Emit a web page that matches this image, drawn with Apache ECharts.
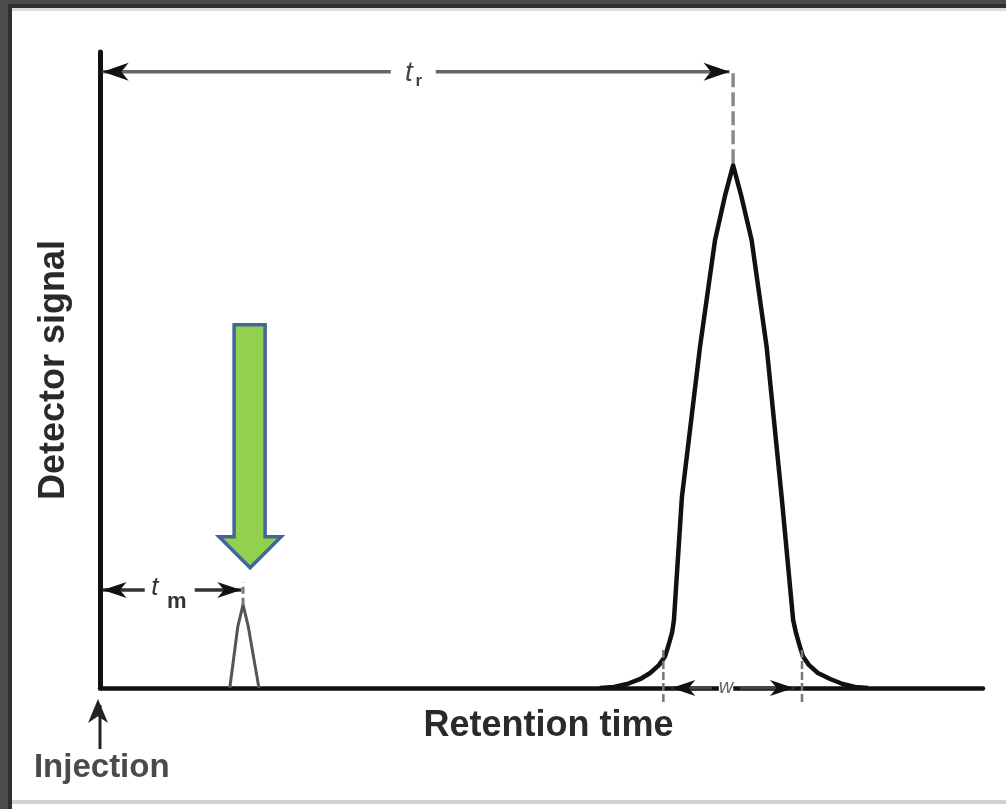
<!DOCTYPE html>
<html><head><meta charset="utf-8">
<script src="https://cdn.jsdelivr.net/npm/echarts@6/dist/echarts.min.js"></script>
<style>html,body{margin:0;padding:0;background:#4b4b4b}#c{width:1006px;height:809px}</style>
</head><body><div id="c"></div>
<script>
// ---- data (retention time 0-100, detector signal 0-100) ----
const mainPeakX = [56.6, 58.2, 59.7, 61.2, 62.3, 63.3, 64.0, 64.4, 64.8, 65.0, 65.9, 67.95, 69.65, 70.8, 71.7, 72.6, 73.8, 75.5, 77.2, 78.5, 78.8, 79.2, 79.6, 80.3, 81.3, 82.7, 84.1, 85.5, 87.0];
const mainPeakY = [0, 0.16, 0.63, 1.42, 2.36, 3.6, 5.0, 6.8, 8.8, 10.7, 30.0, 53.6, 70.4, 77.5, 82.2, 77.5, 70.4, 53.6, 30.0, 10.7, 8.8, 6.8, 5.0, 3.6, 2.36, 1.42, 0.63, 0.16, 0];
const smallPeakX = [14.7, 15.6, 16.2, 16.8, 18.0];
const smallPeakY = [0, 9.6, 13.1, 9.6, 0];

// annotation anchors (data units)
const trSpan = [0.3, 71.3], trLevel = 96.9, trLabelX = 35.2;
const tmSpan = [0.3, 16.0], tmLevel = 15.4, tmLabelX = 6.2;
const wSpan = [63.8, 79.5], wLevel = 0, wLabelX = 70.9;
const mainApex = [71.7, 82.2], mainMarkTop = 97.4;
const smallApex = [16.2, 13.1], smallMarkTop = 16.6;
const injectionArrow = [0, -9.6, -1.1];
const injectionLabel = [0.2, -12.6];
const pointerTip = [17.0, 18.9];

const chart = echarts.init(document.getElementById('c'));

function annotations(params, api) {
  const P = (x, y) => api.coord([x, y]);
  const kids = [];
  const seg = (a, b, st) => kids.push({type: 'line', shape: {x1: a[0], y1: a[1], x2: b[0], y2: b[1]},
    style: Object.assign({stroke: '#666', lineWidth: 3.5}, st)});
  const head = (tip, dx, dy, len, half, color) => {
    const bx = tip[0] - dx * len, by = tip[1] - dy * len;
    const nx = -dy, ny = dx;
    kids.push({type: 'polygon', shape: {points: [[tip[0], tip[1]], [bx + nx * half, by + ny * half],
      [tip[0] - dx * len * 0.72, tip[1] - dy * len * 0.72], [bx - nx * half, by - ny * half]]},
      style: {fill: color || '#111'}});
  };
  const txt = (x, y, s, font, fill, extra) => kids.push({type: 'text', style: Object.assign({x: x, y: y, text: s,
    font: font, fill: fill, align: 'center', verticalAlign: 'middle'}, extra || {})});

  // apex marker lines (dashed gray)
  const a1 = P(mainApex[0], mainApex[1]), a1t = P(mainApex[0], mainMarkTop);
  seg([a1[0], a1[1] - 2], a1t, {stroke: '#8a8a8a', lineWidth: 3.5, lineDash: [14, 5]});
  const a2 = P(smallApex[0], smallApex[1]), a2t = P(smallApex[0], smallMarkTop);
  seg(a2, a2t, {stroke: '#777', lineWidth: 3, lineDash: [7, 4]});

  // t_r dimension arrow
  const r1 = P(trSpan[0], trLevel), r2 = P(trSpan[1], trLevel), rl = P(trLabelX, trLevel);
  seg(r1, [rl[0] - 20, rl[1]]); seg([rl[0] + 25, rl[1]], r2);
  head(r1, -1, 0, 26, 9); head(r2, 1, 0, 26, 9);
  txt(rl[0] - 2, rl[1] + 1, 't', 'italic 28px "Liberation Sans"', '#444');
  txt(rl[0] + 8, rl[1] + 10, 'r', 'bold 17px "Liberation Sans"', '#444');

  // t_m dimension arrow
  const m1 = P(tmSpan[0], tmLevel), m2 = P(tmSpan[1], tmLevel), ml = P(tmLabelX, tmLevel);
  seg(m1, [ml[0] - 10, ml[1]], {stroke: '#333'}); seg([ml[0] + 40, ml[1]], m2, {stroke: '#333'});
  head(m1, -1, 0, 24, 8); head(m2, 1, 0, 24, 8);
  txt(ml[0], ml[1] - 2, 't', 'italic 26px "Liberation Sans"', '#333');
  txt(ml[0] + 22, ml[1] + 12, 'm', 'bold 22px "Liberation Sans"', '#333');

  // w width arrow with ticks
  const w1 = P(wSpan[0], wLevel), w2 = P(wSpan[1], wLevel), wl = P(wLabelX, wLevel);
  seg([w1[0], w1[1] - 38], [w1[0], w1[1] + 14], {stroke: '#777', lineWidth: 2.5, lineDash: [8, 3]});
  seg([w2[0], w2[1] - 38], [w2[0], w2[1] + 14], {stroke: '#777', lineWidth: 2.5, lineDash: [8, 3]});
  seg([w1[0] + 8, w1[1]], [wl[0] - 14, wl[1]], {stroke: '#444', lineWidth: 3});
  seg([wl[0] + 14, wl[1]], [w2[0] - 8, w2[1]], {stroke: '#444', lineWidth: 3});
  head([w1[0] + 8, w1[1]], -1, 0, 24, 8); head([w2[0] - 8, w2[1]], 1, 0, 24, 8);
  txt(wl[0], wl[1] - 1, 'w', 'italic 20px "Liberation Sans"', '#666', {backgroundColor: '#fff'});

  // injection arrow
  const i1 = P(injectionArrow[0], injectionArrow[1]), i2 = P(injectionArrow[0], injectionArrow[2]);
  seg(i1, [i2[0], i2[1] + 10], {stroke: '#222', lineWidth: 3});
  head([i2[0] - 2, i2[1] + 4], 0, -1, 24, 10, '#222');
  const il = P(injectionLabel[0], injectionLabel[1]);
  txt(il[0], il[1], 'Injection', 'bold 33px "Liberation Sans"', '#4a4a4a');

  // green pointer arrow
  const t = P(pointerTip[0], pointerTip[1]);
  const pts = [[0, 0], [-31, -31], [-16, -31], [-16, -243], [15, -243], [15, -31], [31, -31]]
    .map(p => [t[0] + p[0], t[1] + p[1]]);
  kids.push({type: 'polygon', shape: {points: pts},
    style: {fill: '#92d050', stroke: '#41669a', lineWidth: 3.5, lineJoin: 'miter'}});

  return {type: 'group', children: kids};
}

const option = {
  backgroundColor: '#4b4b4b',
  animation: false,
  graphic: [
    {type: 'rect', left: 8, top: 4, shape: {width: 998, height: 805}, style: {fill: '#2f2f2f'}, z: -10},
    {type: 'rect', left: 12, top: 8, shape: {width: 994, height: 801}, style: {fill: '#ffffff'}, z: -9},
    {type: 'rect', left: 12, top: 8, shape: {width: 994, height: 3}, style: {fill: '#dcdcdc'}, z: -8},
    {type: 'rect', left: 12, top: 800, shape: {width: 994, height: 4}, style: {fill: '#d2d2d2'}, z: -8}
  ],
  grid: {left: 100, right: 23, top: 52, bottom: 121},
  xAxis: {
    type: 'value', min: 0, max: 100,
    axisLine: {show: true, onZero: false, lineStyle: {color: '#111', width: 4.5}},
    axisTick: {show: false}, axisLabel: {show: false}, splitLine: {show: false},
    name: 'Retention time', nameLocation: 'middle', nameGap: 20,
    nameTextStyle: {fontFamily: 'Liberation Sans', fontWeight: 'bold', fontSize: 36, color: '#2a2a2a', padding: [0, 0, 0, 14]}
  },
  yAxis: {
    type: 'value', min: 0, max: 100,
    axisLine: {show: true, lineStyle: {color: '#111', width: 5}},
    axisTick: {show: false}, axisLabel: {show: false}, splitLine: {show: false},
    name: 'Detector signal', nameLocation: 'middle', nameGap: 28,
    nameTextStyle: {fontFamily: 'Liberation Sans', fontWeight: 'bold', fontSize: 36, color: '#2a2a2a'}
  },
  series: [
    {type: 'line', data: mainPeakX.map((x, i) => [x, mainPeakY[i]]), showSymbol: false, smooth: false,
     lineStyle: {color: '#111', width: 4.5, join: 'round'}, z: 3},
    {type: 'line', data: smallPeakX.map((x, i) => [x, smallPeakY[i]]), showSymbol: false,
     lineStyle: {color: '#555', width: 3}, z: 3},
    {type: 'custom', data: [0], renderItem: annotations, clip: false, z: 5, silent: true}
  ]
};
chart.setOption(option);
</script></body></html>
